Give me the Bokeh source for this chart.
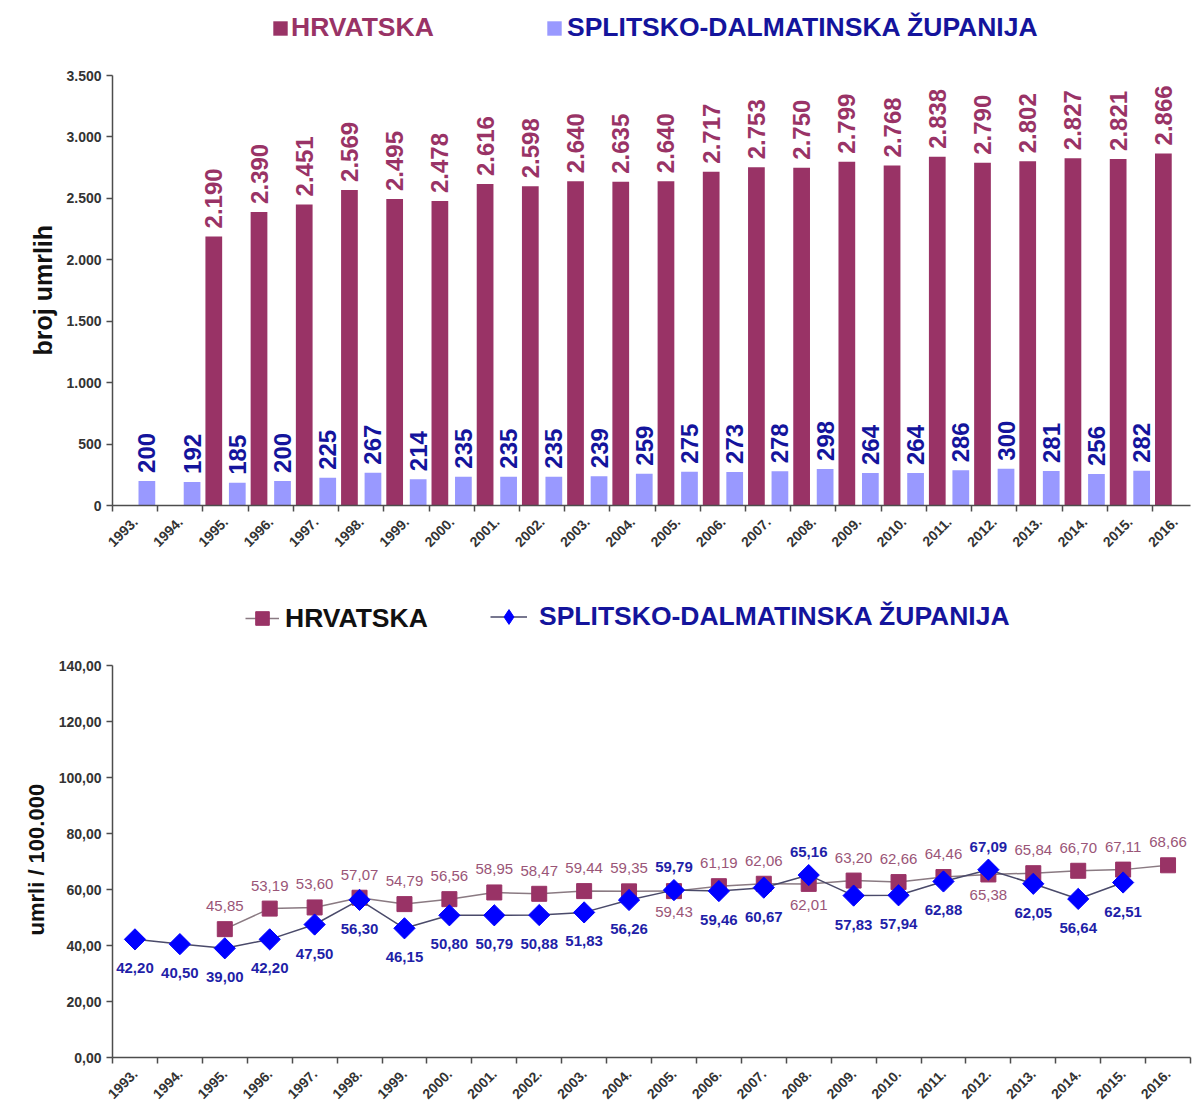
import math
from bokeh.plotting import figure
from bokeh.models import ColumnDataSource, FixedTicker, Range1d, Legend, LegendItem, Title
from bokeh.layouts import column
from bokeh.embed import file_html
from bokeh.resources import INLINE
from bokeh.transform import dodge
from bokeh.core.properties import value

# ---------------- data ----------------
years = list(range(1993, 2017))
year_labels = [f"{y}." for y in years]

hr_years = list(range(1995, 2017))
hr_deaths = [2190, 2390, 2451, 2569, 2495, 2478, 2616, 2598, 2640, 2635, 2640,
             2717, 2753, 2750, 2799, 2768, 2838, 2790, 2802, 2827, 2821, 2866]
hr_rate = [45.85, 53.19, 53.60, 57.07, 54.79, 56.56, 58.95, 58.47, 59.44, 59.35, 59.43,
           61.19, 62.06, 62.01, 63.20, 62.66, 64.46, 65.38, 65.84, 66.70, 67.11, 68.66]

sdz_years = list(range(1993, 2016))
sdz_deaths = [200, 192, 185, 200, 225, 267, 214, 235, 235, 235, 239, 259,
              275, 273, 278, 298, 264, 264, 286, 300, 281, 256, 282]
sdz_rate = [42.20, 40.50, 39.00, 42.20, 47.50, 56.30, 46.15, 50.80, 50.79, 50.88, 51.83, 56.26,
            59.79, 59.46, 60.67, 65.16, 57.83, 57.94, 62.88, 67.09, 62.05, 56.64, 62.51]

top_ticks = [0, 500, 1000, 1500, 2000, 2500, 3000, 3500]
bottom_ticks = [0, 20, 40, 60, 80, 100, 120, 140]

HR_NAME = "HRVATSKA"
SDZ_NAME = "SPLITSKO-DALMATINSKA ŽUPANIJA"

# ---------------- styles ----------------
FONT = "Liberation Sans"
MAROON = "#993366"
LILAC = "#9999FF"
NAVY = "#14149c"
BLUE = "#0000FF"
AXIS = "#4d4d4d"


def thousands(v):
    return f"{v:,}".replace(",", ".")


def dec2(v):
    return f"{v:.2f}".replace(".", ",")


def style_axes(p, yticks, ylabels, ytop, ytitle, title_size, title_offset):
    p.xgrid.visible = False
    p.ygrid.visible = False
    p.outline_line_color = None
    for ax in (p.xaxis[0], p.yaxis[0]):
        ax.axis_line_color = AXIS
        ax.axis_line_width = 1.5
        ax.major_label_text_font = FONT
        ax.major_label_text_font_style = "bold"
        ax.major_label_text_font_size = "14px"
        ax.major_label_text_color = "#333333"
    xa = p.xaxis[0]
    xa.ticker = FixedTicker(ticks=years, minor_ticks=[y - 0.5 for y in years] + [years[-1] + 0.5])
    xa.major_label_overrides = {y: lab for y, lab in zip(years, year_labels)}
    xa.major_label_orientation = math.pi / 4
    xa.major_tick_line_color = None
    xa.minor_tick_line_color = AXIS
    xa.minor_tick_line_width = 1.5
    xa.minor_tick_in = 0
    xa.minor_tick_out = 6
    xa.major_label_standoff = 8
    ya = p.yaxis[0]
    ya.bounds = (0, ytop)
    ya.ticker = FixedTicker(ticks=yticks)
    ya.major_label_overrides = {t: lab for t, lab in zip(yticks, ylabels)}
    ya.major_tick_line_color = AXIS
    ya.major_tick_line_width = 1.5
    ya.major_tick_in = 0
    ya.major_tick_out = 6
    ya.minor_tick_line_color = None
    ya.major_label_standoff = 5
    p.add_layout(Title(text=ytitle, align="left", offset=title_offset, standoff=14,
                       text_font=FONT, text_font_style="bold", text_font_size=title_size,
                       text_color="#111111"), "left")


def legend_box(items, loc, color, gw, gh, standoff):
    return Legend(items=items, location=loc, orientation="horizontal",
                  label_text_font=FONT, label_text_font_style="bold",
                  label_text_font_size="26.5px", label_text_color=color,
                  glyph_width=gw, glyph_height=gh, label_standoff=standoff,
                  background_fill_alpha=0, border_line_color=None,
                  padding=0, margin=0, spacing=0)


# ---------------- top chart: number of deaths ----------------
# frame: page y 5 .. 505 (0 .. 3500 spans 430 px), x from 112 to the right edge
p1 = figure(width=1195, height=580, x_range=Range1d(1992.5, 2016.34), y_range=Range1d(0, 4070),
            output_backend="svg", toolbar_location=None,
            min_border_left=112, min_border_right=0, min_border_top=5, min_border_bottom=75)

src_hr = ColumnDataSource(dict(year=hr_years, val=hr_deaths, lab=[thousands(v) for v in hr_deaths]))
src_sdz = ColumnDataSource(dict(year=sdz_years, val=sdz_deaths, lab=[thousands(v) for v in sdz_deaths]))

r_hr = p1.vbar(x=dodge("year", -0.26), top="val", width=0.37, source=src_hr,
               fill_color=MAROON, line_color=None)
r_sdz = p1.vbar(x=dodge("year", 0.26), top="val", width=0.37, source=src_sdz,
                fill_color=LILAC, line_color=None)

p1.text(x=dodge("year", -0.26), y="val", text="lab", source=src_hr, angle=math.pi / 2,
        text_align="left", text_baseline="middle", y_offset=-8,
        text_font=value(FONT), text_font_style="bold", text_font_size="24px", text_color=MAROON)
p1.text(x=dodge("year", 0.26), y="val", text="lab", source=src_sdz, angle=math.pi / 2,
        text_align="left", text_baseline="middle", y_offset=-8,
        text_font=value(FONT), text_font_style="bold", text_font_size="24px", text_color=NAVY)

style_axes(p1, top_ticks, [thousands(t) for t in top_ticks], 3500, "broj umrlih", "25px", 150)

p1.add_layout(legend_box([LegendItem(label=HR_NAME, renderers=[r_hr])], (159, 462), MAROON, 18, 18, 2))
p1.add_layout(legend_box([LegendItem(label=SDZ_NAME, renderers=[r_sdz])], (433, 462), NAVY, 18, 18, 4))

# ---------------- bottom chart: rate per 100.000 ----------------
# frame: page y 585 .. 1057 (0 .. 140 spans 392 px), x 112 .. 1190
p2 = figure(width=1195, height=532, x_range=Range1d(1992.5, 2016.5), y_range=Range1d(0, 168.6),
            output_backend="svg", toolbar_location=None,
            min_border_left=112, min_border_right=5, min_border_top=5, min_border_bottom=55)

hr_map = dict(zip(hr_years, hr_rate))
sdz_map = dict(zip(sdz_years, sdz_rate))
# the higher value of a year is labelled above its point, the lower one below
hr_off = [-23 if (y not in sdz_map or v >= sdz_map[y]) else 21 for y, v in zip(hr_years, hr_rate)]
sdz_off = [-23 if (y in hr_map and v > hr_map[y]) else 29 for y, v in zip(sdz_years, sdz_rate)]

src_hr2 = ColumnDataSource(dict(year=hr_years, val=hr_rate, lab=[dec2(v) for v in hr_rate], off=hr_off))
src_sdz2 = ColumnDataSource(dict(year=sdz_years, val=sdz_rate, lab=[dec2(v) for v in sdz_rate], off=sdz_off))

l_hr = p2.line("year", "val", source=src_hr2, line_color="#8a7a82", line_width=1.5)
m_hr = p2.scatter("year", "val", source=src_hr2, marker="square", size=15,
                  fill_color=MAROON, line_color=MAROON)
l_sdz = p2.line("year", "val", source=src_sdz2, line_color="#4a4a6a", line_width=1.5)
# diamond symbol of the series (serves as legend key; lies under the larger markers below)
m_sdz_key = p2.scatter("year", "val", source=src_sdz2, marker="diamond", size=14,
                       fill_color=BLUE, line_color=BLUE)
m_sdz = p2.scatter("year", "val", source=src_sdz2, marker="square", angle=math.pi / 4, size=15,
                   fill_color=BLUE, line_color=BLUE)

p2.text(x="year", y="val", text="lab", source=src_hr2, y_offset="off",
        text_align="center", text_baseline="middle",
        text_font=value(FONT), text_font_size="15px", text_color="#9a5577")
p2.text(x="year", y="val", text="lab", source=src_sdz2, y_offset="off",
        text_align="center", text_baseline="middle",
        text_font=value(FONT), text_font_style="bold", text_font_size="15px", text_color="#1f1fa8")

style_axes(p2, bottom_ticks, [dec2(t) for t in bottom_ticks], 140, "umrli / 100.000", "22px", 122)

p2.add_layout(legend_box([LegendItem(label=HR_NAME, renderers=[l_hr, m_hr])], (133, 422), "#111111", 34, 34, 6))
p2.add_layout(legend_box([LegendItem(label=SDZ_NAME, renderers=[l_sdz, m_sdz_key])], (378, 422), NAVY, 37, 37, 12))

layout = column(p1, p2, spacing=0)
open("out.html", "w").write(file_html(layout, INLINE))
